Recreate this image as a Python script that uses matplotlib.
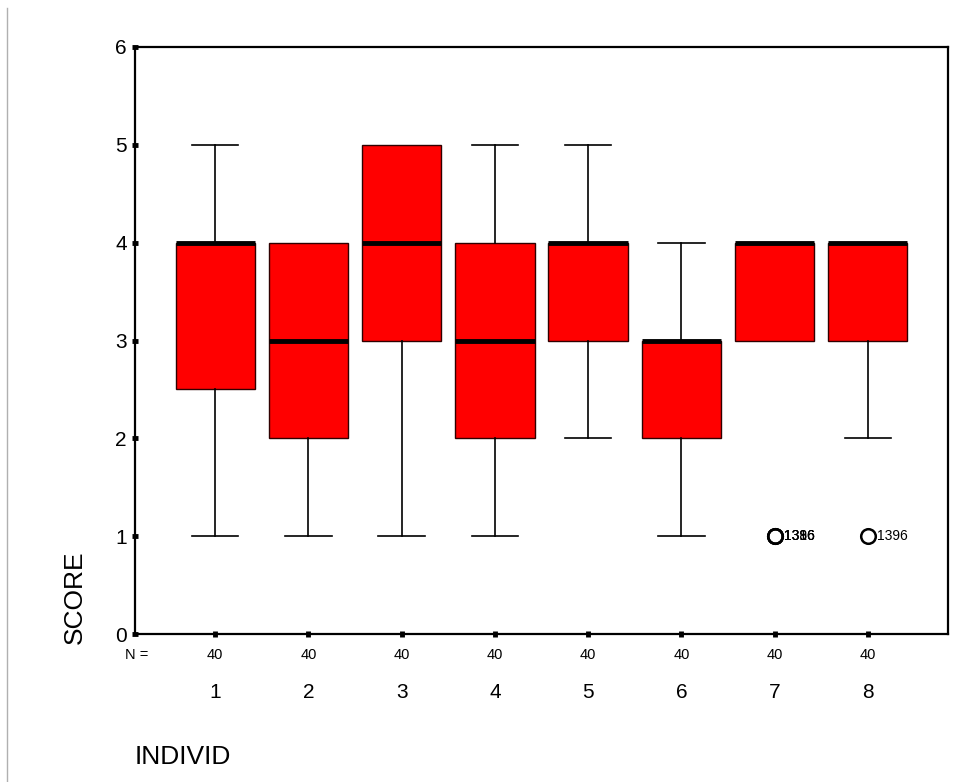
import matplotlib.pyplot as plt
from matplotlib.transforms import blended_transform_factory

plt.rcParams['font.family'] = ['Liberation Sans', 'DejaVu Sans']

# box statistics per INDIVID group
groups = [1, 2, 3, 4, 5, 6, 7, 8]
whislo = [1, 1, 1, 1, 2, 1, 3, 2]
q1 = [2.5, 2, 3, 2, 3, 2, 3, 3]
med = [4, 3, 4, 3, 4, 3, 4, 4]
q3 = [4, 4, 5, 4, 4, 3, 4, 4]
whishi = [5, 4, 5, 5, 5, 4, 4, 4]
n_counts = [40, 40, 40, 40, 40, 40, 40, 40]

# outliers: (group, value, case label)
outliers = [(7, 1, '1316'), (7, 1, '1386'), (7, 1, '1396'), (8, 1, '1396')]

stats = []
for i in range(len(groups)):
    fl = [v for g, v, _ in outliers if g == groups[i]]
    stats.append({'whislo': whislo[i], 'q1': q1[i], 'med': med[i],
                  'q3': q3[i], 'whishi': whishi[i], 'fliers': fl})

fig = plt.figure(figsize=(9.7, 7.82), dpi=100)
ax = fig.add_axes([135/970, 1-634/782, (948-135)/970, (634-47)/782])

bp = ax.bxp(stats, positions=groups, widths=0.85, patch_artist=True,
            boxprops=dict(facecolor='#ff0000', edgecolor='#300000', linewidth=1),
            medianprops=dict(color='black', linewidth=3.5),
            whiskerprops=dict(color='black', linewidth=1.2),
            capprops=dict(color='black', linewidth=1.2),
            capwidths=0.5,
            flierprops=dict(marker='o', markersize=10.5, markerfacecolor='none',
                            markeredgecolor='black', markeredgewidth=1.8))

# no cap where the whisker has zero length
for i in range(len(groups)):
    if whislo[i] == q1[i]:
        bp['caps'][2*i].set_visible(False)
    if whishi[i] == q3[i]:
        bp['caps'][2*i+1].set_visible(False)

for g, v, lab in outliers:
    ax.text(g + 0.1, v, lab, fontsize=10, va='center', ha='left')

ax.set_xlim(0.14, 8.86)
ax.set_ylim(0, 6)
ax.set_yticks(range(0, 7))
ax.set_xticks(groups)
ax.set_xticklabels([])
ax.tick_params(axis='y', direction='inout', length=4, width=3.5, labelsize=15, pad=4)
ax.tick_params(axis='x', direction='inout', length=4, width=3.5, pad=0)
for s in ax.spines.values():
    s.set_linewidth(1.6)

trans = blended_transform_factory(ax.transData, ax.transAxes)
ax.text(148/970, 1-655/782, 'N =', transform=fig.transFigure, fontsize=10.5,
        ha='right', va='center')
for g, n in zip(groups, n_counts):
    ax.text(g, -0.036, str(n), transform=trans, fontsize=10.5,
            ha='center', va='center')
    ax.text(g, -0.099, str(g), transform=trans, fontsize=15,
            ha='center', va='center')

fig.text(135/970, 1-757/782, 'INDIVID', fontsize=19, ha='left', va='center')
fig.text(75/970, 1-597/782, 'SCORE', fontsize=19, rotation=90,
         ha='center', va='center')

# thin grey frame line on the left
fig.add_artist(plt.Line2D([7/970, 7/970], [0, 1-8/782], color='#b0b0b0',
                          linewidth=1, transform=fig.transFigure))

fig.savefig('out.png', dpi=100)
